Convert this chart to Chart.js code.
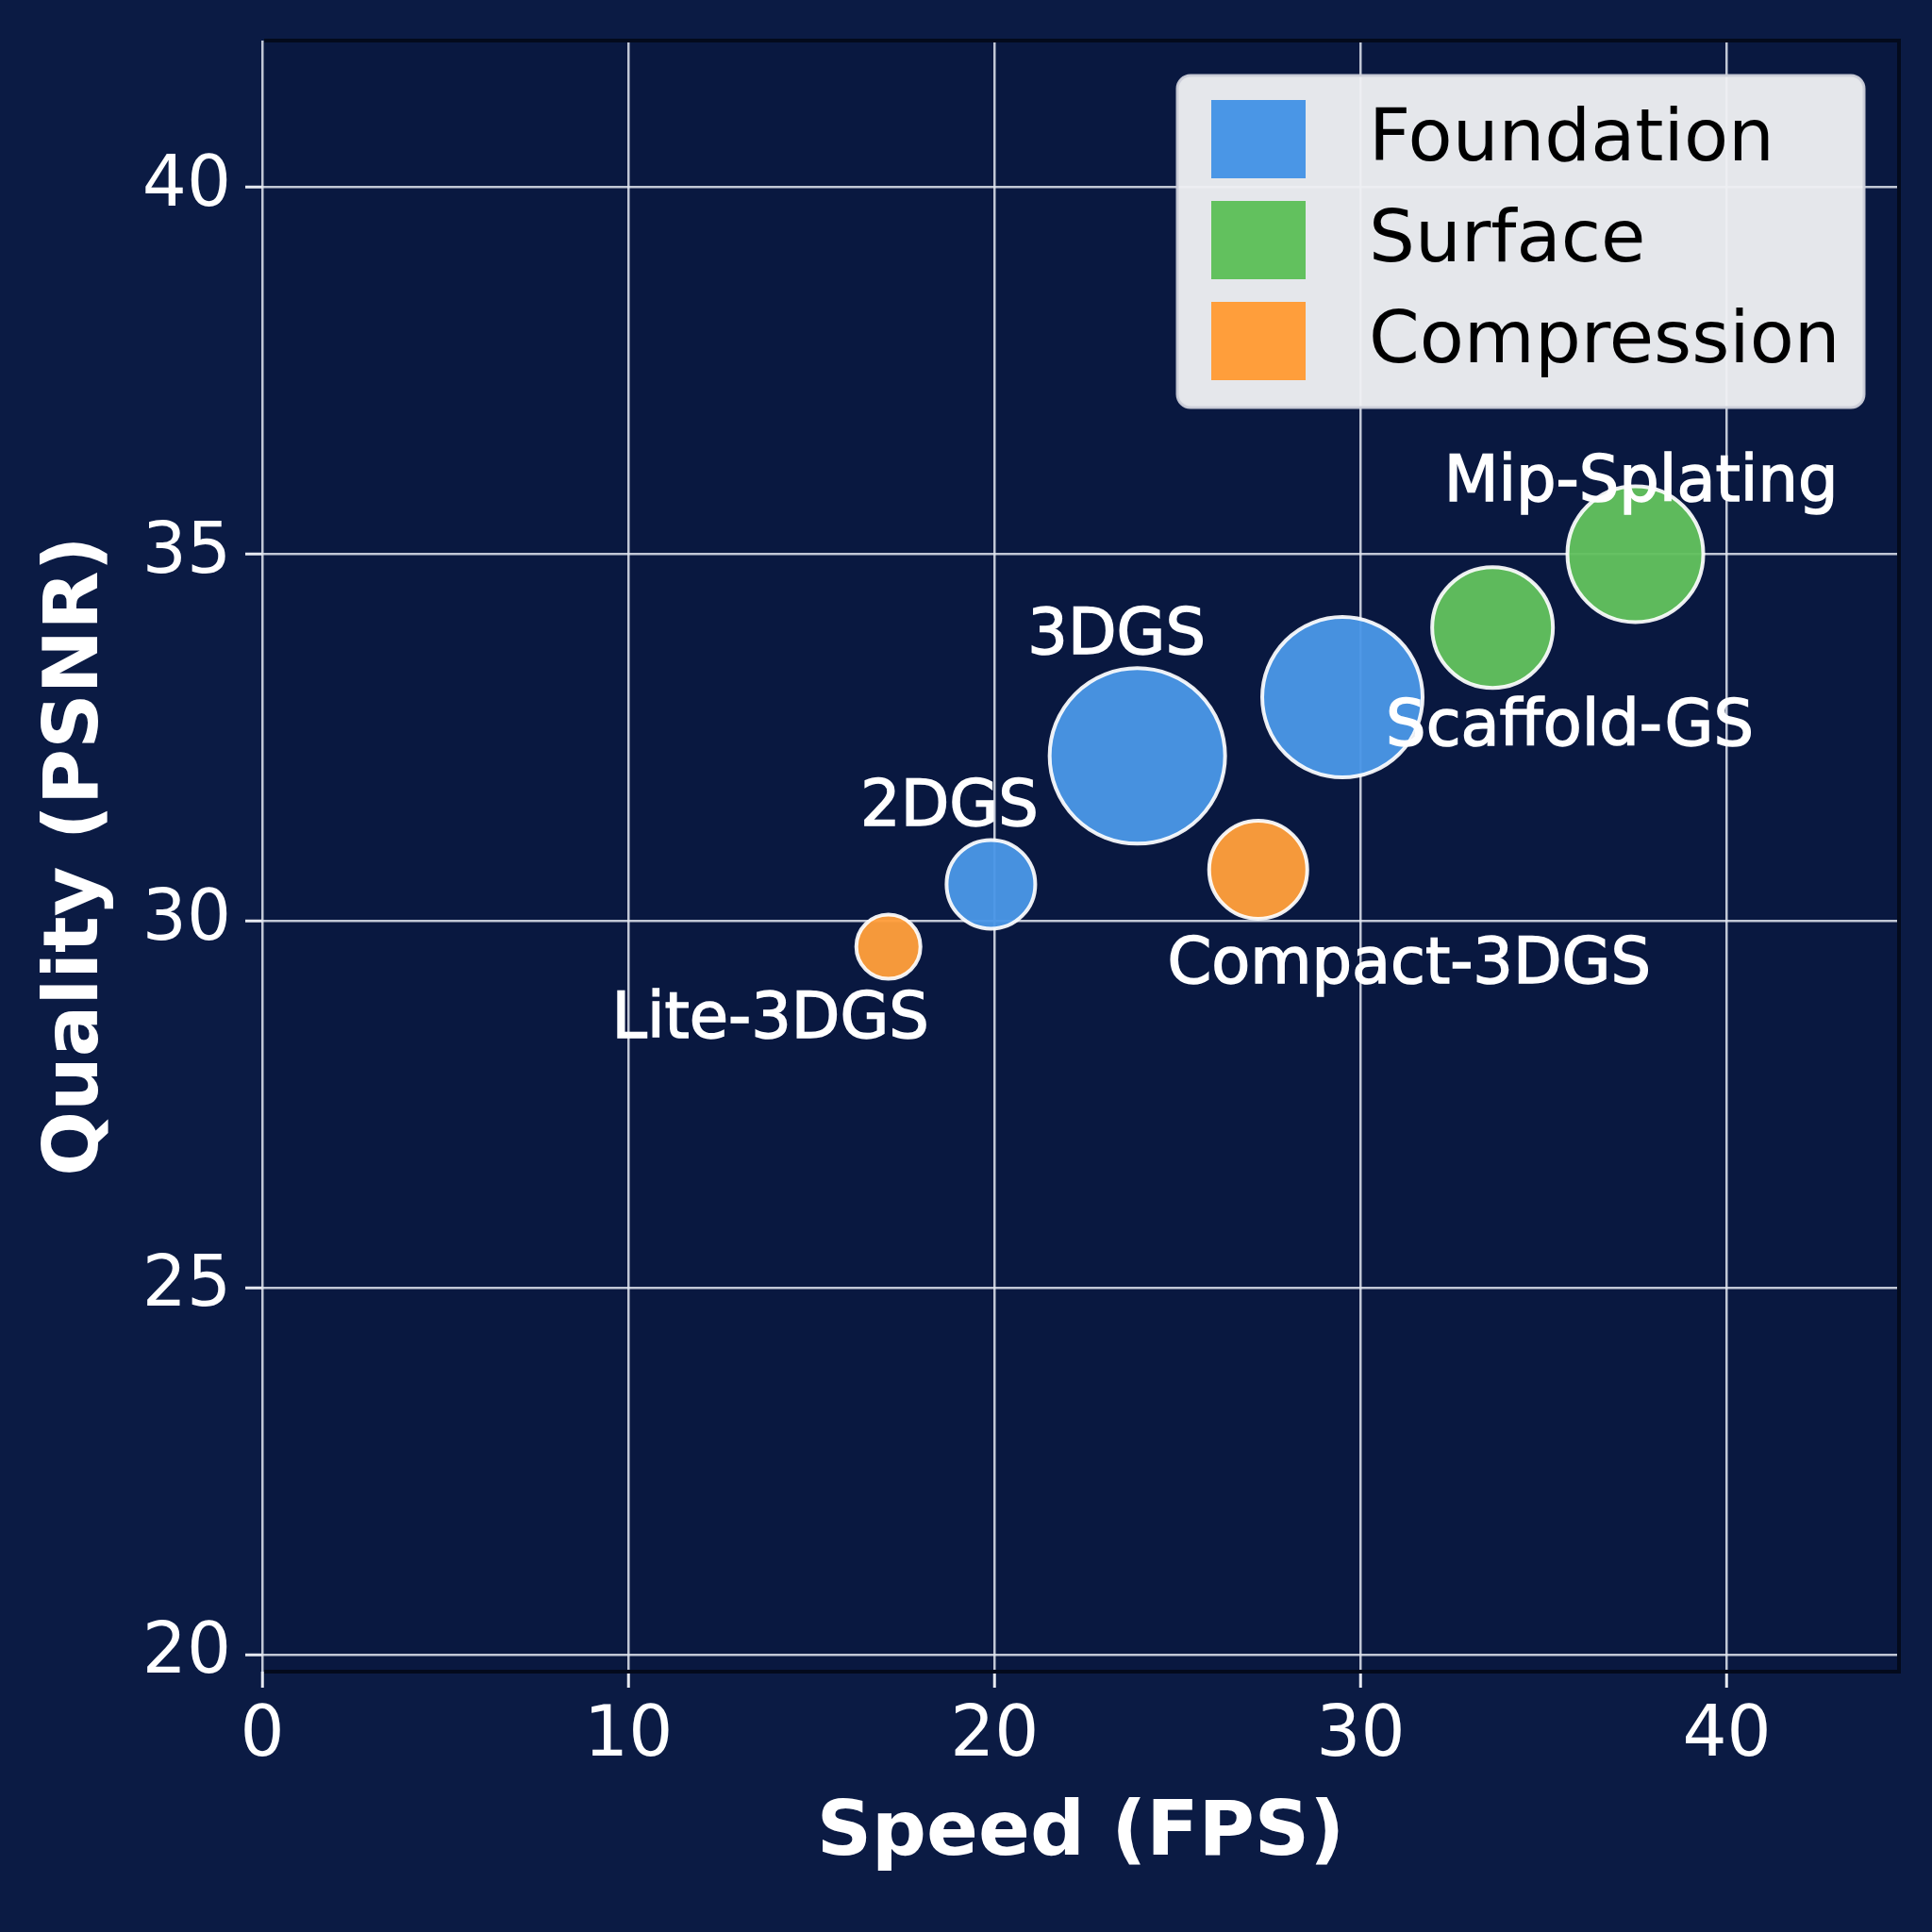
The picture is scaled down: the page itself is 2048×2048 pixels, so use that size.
<!DOCTYPE html>
<html>
<head>
<meta charset="utf-8">
<script src="https://cdn.jsdelivr.net/npm/chart.js@4.4.1/dist/chart.umd.min.js"></script>
<style>
  html, body { margin: 0; padding: 0; background: #0b1b44; }
  canvas { display: block; }
</style>
</head>
<body>
<canvas id="bubbles" width="2048" height="2048"></canvas>
<script>
// data
const categories = ['Foundation', 'Surface', 'Compression'];

const foundationNames = ['3DGS', 'Scaffold-GS', '2DGS'];
const foundationFps = [23.9, 29.5, 19.9];
const foundationPsnr = [32.25, 33.05, 30.5];
const foundationSize = [93, 85, 47];

const surfaceNames = [null, 'Mip-Splating'];
const surfaceFps = [33.6, 37.5];
const surfacePsnr = [34.0, 35.0];
const surfaceSize = [64, 72];

const compressionNames = ['Compact-3DGS', 'Lite-3DGS'];
const compressionFps = [27.2, 17.1];
const compressionPsnr = [30.7, 29.65];
const compressionSize = [52, 34];

const xTicks = [0, 10, 20, 30, 40];
const yTicks = [20, 25, 30, 35, 40];

// layout / style
const FONT = "'DejaVu Sans', 'Noto Sans', sans-serif";
const colors = ['#4a96e6', '#62c15e', '#ff9e3b'];
const labelOffsets = {
  '3DGS': [-22, -126],
  'Scaffold-GS': [241, 33],
  '2DGS': [-44, -80],
  'Mip-Splating': [6, -74],
  'Compact-3DGS': [160, 103],
  'Lite-3DGS': [-125, 79]
};

const toPoints = (xs, ys, rs) => xs.map((x, i) => ({ x: x, y: ys[i], r: rs[i] }));

const groups = [
  { names: foundationNames, points: toPoints(foundationFps, foundationPsnr, foundationSize) },
  { names: surfaceNames, points: toPoints(surfaceFps, surfacePsnr, surfaceSize) },
  { names: compressionNames, points: toPoints(compressionFps, compressionPsnr, compressionSize) }
];

const hexA = (hex, a) => {
  const n = parseInt(hex.slice(1), 16);
  return 'rgba(' + (n >> 16) + ',' + ((n >> 8) & 255) + ',' + (n & 255) + ',' + a + ')';
};

const background = {
  id: 'background',
  beforeDraw(chart) {
    const ctx = chart.ctx;
    ctx.save();
    ctx.fillStyle = '#0b1b44';
    ctx.fillRect(0, 0, chart.width, chart.height);
    const a = chart.chartArea;
    ctx.fillStyle = '#091840';
    ctx.fillRect(a.left, a.top, a.right - a.left, a.bottom - a.top);
    ctx.restore();
  }
};

const frame = {
  id: 'frame',
  beforeDatasetsDraw(chart) {
    const ctx = chart.ctx;
    const a = chart.chartArea;
    ctx.save();
    ctx.strokeStyle = '#030a1c';
    ctx.lineWidth = 4;
    ctx.beginPath();
    ctx.moveTo(a.left + 2, a.top);
    ctx.lineTo(a.right, a.top);
    ctx.lineTo(a.right, a.bottom);
    ctx.lineTo(a.left + 2, a.bottom);
    ctx.stroke();
    ctx.restore();
  }
};

const pointLabels = {
  id: 'pointLabels',
  afterDatasetsDraw(chart) {
    const ctx = chart.ctx;
    ctx.save();
    ctx.font = '67px ' + FONT;
    ctx.fillStyle = '#ffffff';
    ctx.strokeStyle = '#ffffff';
    ctx.lineWidth = 1.5;
    ctx.textAlign = 'center';
    ctx.textBaseline = 'middle';
    chart.data.datasets.forEach((ds, di) => {
      const meta = chart.getDatasetMeta(di);
      ds.names.forEach((name, i) => {
        if (!name) return;
        const el = meta.data[i];
        const off = labelOffsets[name] || [0, 0];
        ctx.fillText(name, el.x + off[0], el.y + off[1]);
        ctx.strokeText(name, el.x + off[0], el.y + off[1]);
      });
    });
    ctx.restore();
  }
};

const boxLegend = {
  id: 'boxLegend',
  afterDatasetsDraw(chart) {
    const ctx = chart.ctx;
    const left = 1248, top = 80, w = 728, h = 352;
    ctx.save();
    ctx.beginPath();
    ctx.roundRect(left, top, w, h, 14);
    ctx.fillStyle = 'rgba(238,239,243,0.96)';
    ctx.fill();
    ctx.lineWidth = 3;
    ctx.strokeStyle = 'rgba(205,208,218,0.95)';
    ctx.stroke();
    ctx.font = '77px ' + FONT;
    ctx.textBaseline = 'middle';
    ctx.textAlign = 'left';
    chart.data.datasets.forEach((ds, i) => {
      const rowY = top + 26 + i * 107;
      ctx.fillStyle = colors[i];
      ctx.fillRect(left + 36, rowY, 100, 83);
      ctx.fillStyle = '#000000';
      ctx.fillText(ds.label, left + 203, rowY + 44);
    });
    ctx.restore();
  }
};

// drop the label-overflow padding Chart.js reserves so the plot box matches
const noScalePadding = (scale) => {
  scale.paddingTop = 0;
  scale.paddingBottom = 0;
  scale.paddingLeft = 0;
  scale.paddingRight = 0;
};

new Chart(document.getElementById('bubbles'), {
  type: 'bubble',
  data: {
    datasets: groups.map((g, i) => ({
      label: categories[i],
      names: g.names,
      data: g.points,
      backgroundColor: hexA(colors[i], 0.96),
      borderColor: 'rgba(255,255,255,0.92)',
      borderWidth: 4,
      clip: false
    }))
  },
  options: {
    responsive: false,
    animation: false,
    devicePixelRatio: 1,
    layout: { autoPadding: false, padding: { top: 43, right: 35, left: 0, bottom: 0 } },
    plugins: {
      legend: { display: false },
      tooltip: { enabled: false }
    },
    scales: {
      x: {
        type: 'linear',
        min: 0,
        max: 44.7,
        afterFit(scale) { scale.height = 276; noScalePadding(scale); },
        afterBuildTicks(scale) { scale.ticks = xTicks.map(v => ({ value: v })); },
        grid: { color: 'rgba(226,230,240,0.85)', lineWidth: 2.5, tickLength: 17, tickColor: '#e8ebf2', tickWidth: 3 },
        border: { display: false },
        ticks: { color: '#ffffff', font: { family: FONT, size: 74 }, padding: 8, maxRotation: 0 },
        title: { display: true, text: 'Speed (FPS)', color: '#ffffff', font: { family: FONT, size: 81, weight: 'bold' }, padding: { top: 0, bottom: 54 } }
      },
      y: {
        type: 'linear',
        min: 19.77,
        max: 42,
        afterFit(scale) { scale.width = 278; noScalePadding(scale); },
        afterBuildTicks(scale) { scale.ticks = yTicks.map(v => ({ value: v })); },
        grid: { color: 'rgba(226,230,240,0.85)', lineWidth: 2.5, tickLength: 18, tickColor: '#e8ebf2', tickWidth: 3 },
        border: { display: false },
        ticks: { color: '#ffffff', font: { family: FONT, size: 74 }, padding: 15 },
        title: { display: true, text: 'Quality (PSNR)', color: '#ffffff', font: { family: FONT, size: 81, weight: 'bold' }, padding: { top: 33, bottom: 0 } }
      }
    }
  },
  plugins: [background, frame, pointLabels, boxLegend]
});
</script>
</body>
</html>
